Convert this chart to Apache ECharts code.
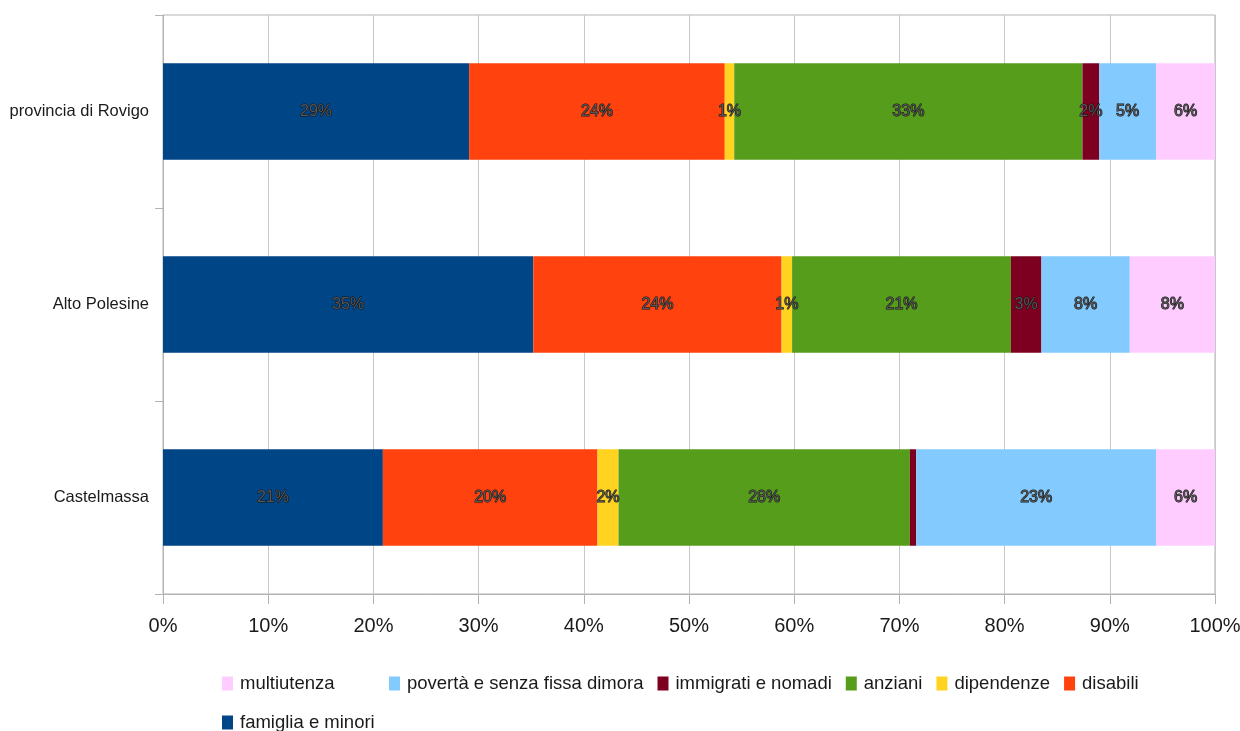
<!DOCTYPE html>
<html>
<head>
<meta charset="utf-8">
<script src="https://cdn.jsdelivr.net/npm/echarts@6/dist/echarts.min.js"></script>
<style>
  html, body { margin: 0; padding: 0; background: #fff; }
  #chart { width: 1240px; height: 731px; }
</style>
</head>
<body>
<div id="chart"></div>
<script>
// Aree territoriali (dall'alto verso il basso)
const categories = ['provincia di Rovigo', 'Alto Polesine', 'Castelmassa'];

// Quota percentuale per area di intervento
const famigliaMinori = [29.1, 35.2, 20.9];
const disabili       = [24.3, 23.6, 20.4];
const dipendenze     = [0.9, 1.0, 2.0];
const anziani        = [33.1, 20.8, 27.7];
const immigrati      = [1.6, 2.9, 0.6];
const poverta        = [5.4, 8.4, 22.8];
const multiutenza    = [5.6, 8.1, 5.6];

const xTicks = [0, 10, 20, 30, 40, 50, 60, 70, 80, 90, 100];

const seriesDefs = [
  { name: 'famiglia e minori', data: famigliaMinori, color: '#004586' },
  { name: 'disabili', data: disabili, color: '#ff420e' },
  { name: 'dipendenze', data: dipendenze, color: '#ffd320' },
  { name: 'anziani', data: anziani, color: '#579d1c' },
  { name: 'immigrati e nomadi', data: immigrati, color: '#7e0021' },
  { name: 'povertà e senza fissa dimora', data: poverta, color: '#83caff' },
  { name: 'multiutenza', data: multiutenza, color: '#ffccff' }
];

const FONT = '"Liberation Sans", Arial, sans-serif';
const GRID_COLOR = '#b3b3b3';

const chart = echarts.init(document.getElementById('chart'), null, { renderer: 'canvas' });

const legendBase = {
  orient: 'horizontal',
  itemWidth: 11,
  itemHeight: 14,
  itemGap: 14,
  icon: 'rect',
  padding: 0,
  textStyle: { fontFamily: FONT, fontSize: 18.5, color: '#1a1a1a', padding: [0, 0, 0, 2] }
};

chart.setOption({
  animation: false,
  textStyle: { fontFamily: FONT },
  grid: {
    left: 163, right: 25, top: 15, bottom: 137,
    containLabel: false,
    outerBoundsMode: 'none',
    show: true, borderColor: GRID_COLOR, borderWidth: 1, backgroundColor: 'transparent'
  },
  legend: [
    Object.assign({}, legendBase, { left: 222, top: 674, data: ['multiutenza'] }),
    Object.assign({}, legendBase, {
      left: 389, top: 674,
      data: ['povertà e senza fissa dimora', 'immigrati e nomadi', 'anziani', 'dipendenze', 'disabili']
    }),
    Object.assign({}, legendBase, { left: 222, top: 713, data: ['famiglia e minori'] })
  ],
  xAxis: {
    type: 'value',
    min: xTicks[0],
    max: xTicks[xTicks.length - 1],
    interval: 10,
    axisLine: { show: true, lineStyle: { color: GRID_COLOR, width: 1 } },
    axisTick: { show: true, length: 10, lineStyle: { color: GRID_COLOR } },
    splitLine: { show: true, lineStyle: { color: '#c8c8c8', width: 1 } },
    axisLabel: {
      margin: 22,
      fontSize: 20,
      color: '#1a1a1a',
      fontFamily: FONT,
      formatter: v => v + '%'
    }
  },
  yAxis: {
    type: 'category',
    inverse: true,
    data: categories,
    axisLine: { show: true, lineStyle: { color: GRID_COLOR, width: 1 } },
    axisTick: { show: true, length: 8, lineStyle: { color: GRID_COLOR } },
    axisLabel: { margin: 14, fontSize: 16.5, color: '#1a1a1a', fontFamily: FONT }
  },
  series: seriesDefs.map(s => ({
    name: s.name,
    type: 'bar',
    stack: 'totale',
    barWidth: '50%',
    data: s.data,
    itemStyle: { color: s.color },
    label: {
      show: true,
      position: 'inside',
      fontFamily: FONT,
      fontSize: 16,
      color: '#555',
      textBorderColor: '#111',
      textBorderWidth: 1,
      formatter: p => (p.value < 0.8 ? '' : Math.round(p.value) + '%')
    }
  }))
});
</script>
</body>
</html>
